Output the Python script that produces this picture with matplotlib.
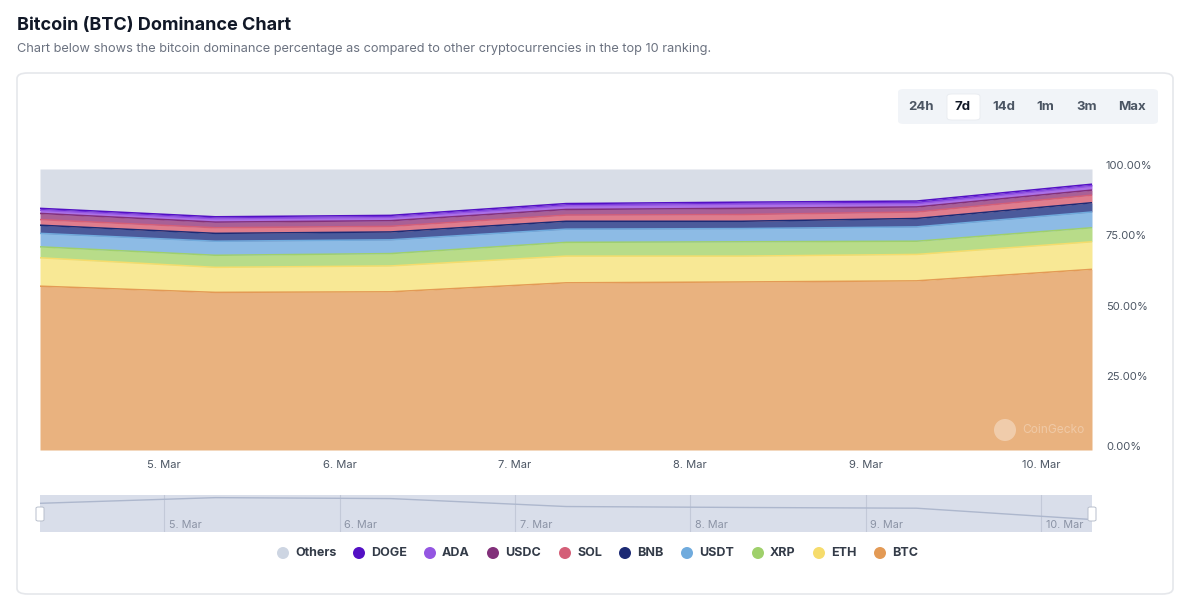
import numpy as np
import matplotlib
matplotlib.use("Agg")
import matplotlib.pyplot as plt
import matplotlib.dates as mdates
from matplotlib.patches import FancyBboxPatch, Ellipse
from matplotlib.transforms import ScaledTranslation

# Data: dominance share (%) per coin, one point per day
dates = np.array(["2025-03-04T07:00", "2025-03-05T07:00", "2025-03-06T07:00",
                  "2025-03-07T07:00", "2025-03-08T07:00", "2025-03-09T07:00",
                  "2025-03-10T07:00"], dtype="datetime64[m]")

btc  = [58.3, 56.1, 56.3, 59.5, 59.8, 60.2, 64.3]
eth  = [10.1, 8.9, 9.2, 9.5, 9.2, 9.4, 9.8]
xrp  = [3.9, 4.3, 4.4, 4.9, 5.1, 4.7, 5.0]
usdt = [4.8, 5.0, 4.9, 4.7, 4.7, 5.1, 5.6]
bnb  = [2.9, 2.8, 2.8, 2.8, 2.6, 3.0, 3.3]
sol  = [2.0, 2.0, 2.0, 2.2, 2.4, 2.3, 2.7]
usdc = [2.2, 2.0, 2.0, 2.0, 2.2, 1.8, 1.8]
ada  = [1.1, 1.2, 1.2, 1.3, 1.5, 1.2, 1.4]
doge = [0.7, 0.7, 0.7, 0.8, 0.7, 0.9, 0.7]

names  = ["BTC", "ETH", "XRP", "USDT", "BNB", "SOL", "USDC", "ADA", "DOGE"]
series = [btc, eth, xrp, usdt, bnb, sol, usdc, ada, doge]
others = 100 - np.sum(np.array(series), axis=0)

legend_order = ["Others", "DOGE", "ADA", "USDC", "SOL", "BNB", "USDT", "XRP", "ETH", "BTC"]
line_col = {"BTC": "#e39a55", "ETH": "#f6dc6c", "XRP": "#9fd06b", "USDT": "#70abdd",
            "BNB": "#1c2a74", "SOL": "#d45f78", "USDC": "#82307a", "ADA": "#9456e2",
            "DOGE": "#5310c4", "Others": "#cdd5e2"}
fill_col = {"BTC": "#e9b27f", "ETH": "#f8e895", "XRP": "#b8dc89", "USDT": "#8dbbe5",
            "BNB": "#4b5a9b", "SOL": "#df7d8d", "USDC": "#a96096", "ADA": "#ab70e6",
            "DOGE": "#6c2ad9", "Others": "#d8dde7"}

yticks = [0, 25, 50, 75, 100]
xtick_days = np.array(["2025-03-05", "2025-03-06", "2025-03-07", "2025-03-08",
                       "2025-03-09", "2025-03-10"], dtype="datetime64[m]")
ranges = ["24h", "7d", "14d", "1m", "3m", "Max"]

plt.rcParams["font.family"] = ["Inter", "DejaVu Sans"]

W, H = 1200, 615
fig = plt.figure(figsize=(W / 100, H / 100), dpi=100)
fig.patch.set_facecolor("white")

def fx(px):
    return px / W

def fy(py):
    return 1 - py / H

def dot(cx, cy, r, color, alpha=1.0, z=3):
    fig.add_artist(Ellipse((fx(cx), fy(cy)), 2 * r / W, 2 * r / H,
                           transform=fig.transFigure, facecolor=color,
                           edgecolor="none", alpha=alpha, zorder=z))

# Heading
fig.text(fx(17), fy(25), "Bitcoin (BTC) Dominance Chart", fontsize=13.0,
         weight="bold", color="#111827", va="center", ha="left")
fig.text(fx(17), fy(49), "Chart below shows the bitcoin dominance percentage as compared to "
         "other cryptocurrencies in the top 10 ranking.", fontsize=9.2,
         color="#6b7280", va="center", ha="left")

# Card
card = FancyBboxPatch((fx(17), fy(594)), fx(1156), 521 / H,
                      boxstyle="round,pad=0,rounding_size=0.009",
                      transform=fig.transFigure, facecolor="white",
                      edgecolor="#e5e7eb", linewidth=1.2, zorder=0)
fig.add_artist(card)

# Range buttons
grp = FancyBboxPatch((fx(898), fy(124)), fx(260), 35 / H,
                     boxstyle="round,pad=0,rounding_size=0.005",
                     transform=fig.transFigure, facecolor="#f1f4f8",
                     edgecolor="none", zorder=1)
fig.add_artist(grp)
act = FancyBboxPatch((fx(947), fy(120)), fx(33), 26 / H,
                     boxstyle="round,pad=0,rounding_size=0.004",
                     transform=fig.transFigure, facecolor="white",
                     edgecolor="#e8ebf0", linewidth=0.6, zorder=2)
fig.add_artist(act)
for lbl, cx in zip(ranges, [921, 963, 1004, 1045, 1087, 1132]):
    fig.text(fx(cx), fy(107), lbl, fontsize=9.5, weight="bold",
             color="#111827" if lbl == "7d" else "#4b5563",
             ha="center", va="center", zorder=3)

# Main chart
ax = fig.add_axes([fx(40), fy(450), fx(1052), 281 / H])
keys = names + ["Others"]
vals = series + [others]
base = np.zeros(len(dates))
for k, v in zip(keys, vals):
    top = base + np.array(v)
    ax.fill_between(dates, base, top, color=fill_col[k], linewidth=0, zorder=2)
    base = top
base = np.zeros(len(dates))
for k, v in zip(names, series):
    base = base + np.array(v)
    ax.plot(dates, base, color=line_col[k], linewidth=1.1, zorder=3)

ax.set_xlim(dates[0], dates[-1])
ax.set_ylim(0, 100)
for s in ax.spines.values():
    s.set_visible(False)
ax.yaxis.tick_right()
ax.set_yticks(yticks)
ax.set_yticklabels([f"{t:.2f}%" for t in yticks])
ax.tick_params(axis="y", length=0, pad=10, labelsize=8, labelcolor="#4b5563")
for t in ax.get_yticklabels():
    t.set_transform(t.get_transform() + ScaledTranslation(0, 4 / 100, fig.dpi_scale_trans))
ax.set_xticks(xtick_days)
ax.xaxis.set_major_formatter(mdates.DateFormatter("%-d. Mar"))
ax.tick_params(axis="x", length=0, pad=7, labelsize=8, labelcolor="#4b5563")

# Watermark
dot(1005, 430, 11, "white", alpha=0.35, z=5)
fig.text(fx(1022), fy(430), "CoinGecko", fontsize=8.6, color="white", alpha=0.3,
         ha="left", va="center", zorder=5)

# Navigator
nav = fig.add_axes([fx(40), fy(532), fx(1052), 37 / H])
nav.set_facecolor("#d9deea")
nav.plot(dates, others, color="#adb7cd", linewidth=1, zorder=3)
nav.set_xlim(dates[0], dates[-1])
nav.set_ylim(-1.2, 18.4)
for d in xtick_days:
    nav.axvline(d, color="#c3c9d8", linewidth=0.8, zorder=2)
    nav.text(d + np.timedelta64(40, "m"), -0.3,
             mdates.num2date(mdates.date2num(d)).strftime("%-d. Mar"),
             fontsize=7.8, color="#8b93a5", ha="left", va="bottom", zorder=4)
nav.set_xticks([])
nav.set_yticks([])
for s in nav.spines.values():
    s.set_visible(False)
for hx in [40, 1092]:
    h = FancyBboxPatch((fx(hx - 4), fy(521)), fx(8), 14 / H,
                       boxstyle="round,pad=0,rounding_size=0.002",
                       transform=fig.transFigure, facecolor="white",
                       edgecolor="#b8bfcc", linewidth=0.7, zorder=6)
    fig.add_artist(h)

# Legend
lx = [283, 359, 430, 493, 565, 625, 687, 758, 819, 880]
for k, cx in zip(legend_order, lx):
    dot(cx, 553, 6, line_col[k])
    fig.text(fx(cx + 12), fy(553), k, fontsize=9, weight="bold", color="#333b48",
             ha="left", va="center")

fig.savefig("out.png", dpi=100)
